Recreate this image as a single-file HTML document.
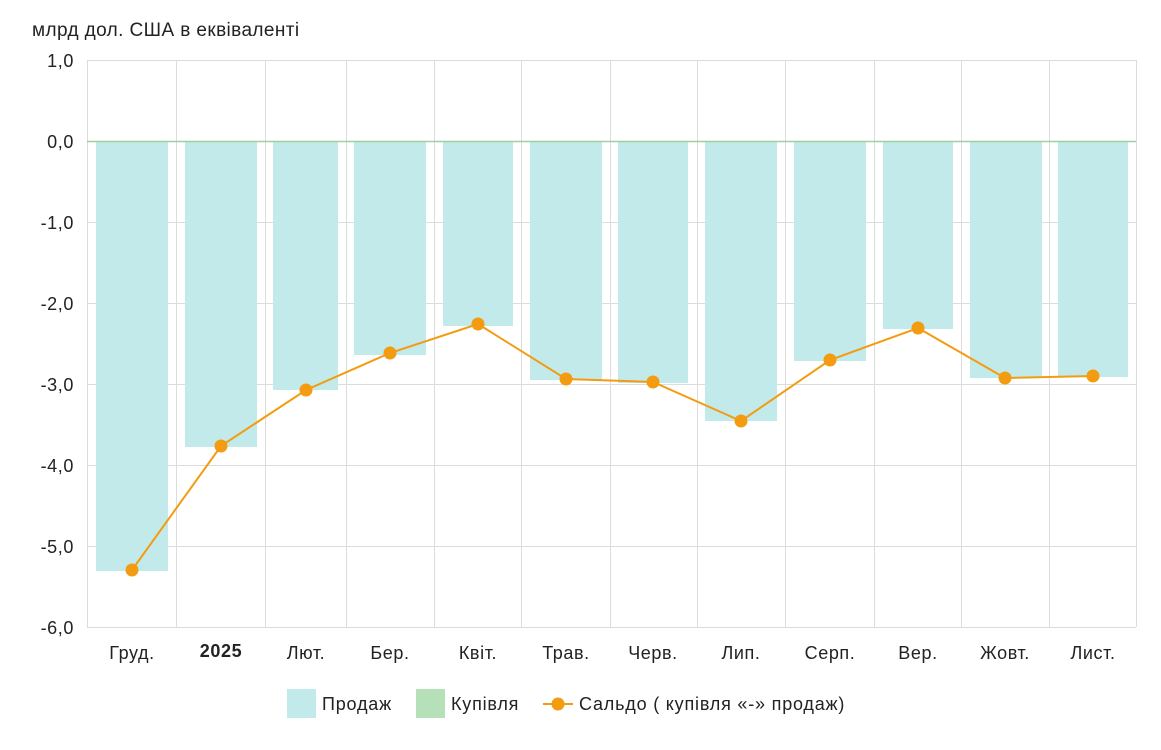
<!DOCTYPE html>
<html><head><meta charset="utf-8"><style>
body{margin:0;background:#fff;}
svg{display:block;font-family:"Liberation Sans",Roboto,sans-serif;}
</style></head><body>
<svg width="1161" height="750" viewBox="0 0 1161 750" xmlns="http://www.w3.org/2000/svg">
<text x="32" y="36" font-size="19" letter-spacing="0.4" fill="#222">млрд дол. США в еквіваленті</text>
<g stroke="#dcdcdc" stroke-width="1">
<line x1="87" y1="60.5" x2="1136" y2="60.5"/>
<line x1="87" y1="222.5" x2="1136" y2="222.5"/>
<line x1="87" y1="303.5" x2="1136" y2="303.5"/>
<line x1="87" y1="384.5" x2="1136" y2="384.5"/>
<line x1="87" y1="465.5" x2="1136" y2="465.5"/>
<line x1="87" y1="546.5" x2="1136" y2="546.5"/>
<line x1="87" y1="627.5" x2="1136" y2="627.5"/>
<line x1="87.5" y1="60" x2="87.5" y2="627"/>
<line x1="176.5" y1="60" x2="176.5" y2="627"/>
<line x1="265.5" y1="60" x2="265.5" y2="627"/>
<line x1="346.5" y1="60" x2="346.5" y2="627"/>
<line x1="434.5" y1="60" x2="434.5" y2="627"/>
<line x1="521.5" y1="60" x2="521.5" y2="627"/>
<line x1="610.5" y1="60" x2="610.5" y2="627"/>
<line x1="697.5" y1="60" x2="697.5" y2="627"/>
<line x1="785.5" y1="60" x2="785.5" y2="627"/>
<line x1="874.5" y1="60" x2="874.5" y2="627"/>
<line x1="961.5" y1="60" x2="961.5" y2="627"/>
<line x1="1049.5" y1="60" x2="1049.5" y2="627"/>
<line x1="1136.5" y1="60" x2="1136.5" y2="627"/>
</g>
<g fill="#c2eaea">
<rect x="96" y="141" width="72" height="430"/>
<rect x="185" y="141" width="72" height="306"/>
<rect x="273" y="141" width="65" height="249"/>
<rect x="354" y="141" width="72" height="214"/>
<rect x="443" y="141" width="70" height="185"/>
<rect x="530" y="141" width="72" height="239"/>
<rect x="618" y="141" width="70" height="242"/>
<rect x="705" y="141" width="72" height="280"/>
<rect x="794" y="141" width="72" height="220"/>
<rect x="883" y="141" width="70" height="188"/>
<rect x="970" y="141" width="72" height="237"/>
<rect x="1058" y="141" width="70" height="236"/>
</g>
<line x1="87" y1="141.5" x2="1136" y2="141.5" stroke="#9fcf9f" stroke-width="1.5"/>
<polyline fill="none" stroke="#f39c12" stroke-width="2" points="132,570 221,446 306,390 390,353 478,324 566,379 653,382 741,421 830,360 918,328 1005,378 1093,376"/>
<g fill="#f39c12">
<circle cx="132" cy="570" r="6.5"/><circle cx="221" cy="446" r="6.5"/><circle cx="306" cy="390" r="6.5"/><circle cx="390" cy="353" r="6.5"/><circle cx="478" cy="324" r="6.5"/><circle cx="566" cy="379" r="6.5"/><circle cx="653" cy="382" r="6.5"/><circle cx="741" cy="421" r="6.5"/><circle cx="830" cy="360" r="6.5"/><circle cx="918" cy="328" r="6.5"/><circle cx="1005" cy="378" r="6.5"/><circle cx="1093" cy="376" r="6.5"/>
</g>
<g font-size="18" letter-spacing="0.6" fill="#222" text-anchor="end">
<text x="74" y="67">1,0</text><text x="74" y="148">0,0</text><text x="74" y="229">-1,0</text><text x="74" y="310">-2,0</text><text x="74" y="391">-3,0</text><text x="74" y="472">-4,0</text><text x="74" y="553">-5,0</text><text x="74" y="634">-6,0</text>
</g>
<g font-size="18" letter-spacing="0.6" fill="#222" text-anchor="middle">
<text x="132" y="659">Груд.</text><text x="221" y="657" font-weight="bold">2025</text><text x="306" y="659">Лют.</text><text x="390" y="659">Бер.</text><text x="478" y="659">Квіт.</text><text x="566" y="659">Трав.</text><text x="653" y="659">Черв.</text><text x="741" y="659">Лип.</text><text x="830" y="659">Серп.</text><text x="918" y="659">Вер.</text><text x="1005" y="659">Жовт.</text><text x="1093" y="659">Лист.</text>
</g>
<g font-size="18" letter-spacing="0.8" fill="#222">
<rect x="287" y="689" width="29" height="29" fill="#c2eaea"/>
<text x="322" y="710">Продаж</text>
<rect x="416" y="689" width="29" height="29" fill="#b5e0b8"/>
<text x="451" y="710">Купівля</text>
<line x1="543" y1="704" x2="573" y2="704" stroke="#f39c12" stroke-width="2"/>
<circle cx="558" cy="704" r="6.5" fill="#f39c12"/>
<text x="579" y="710">Сальдо ( купівля «-» продаж)</text>
</g>
</svg>
</body></html>
